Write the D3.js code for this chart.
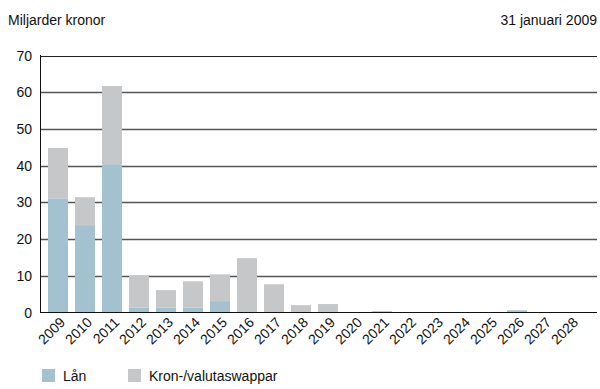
<!DOCTYPE html>
<html>
<head>
<meta charset="utf-8">
<script src="https://cdn.jsdelivr.net/npm/d3@7"></script>
<style>
  body { margin: 0; background: #fff; }
  svg { font-family: "Liberation Sans", Arial, sans-serif; }
</style>
</head>
<body>
<svg width="600" height="389"></svg>
<script>
var years = ["2009", "2010", "2011", "2012", "2013", "2014", "2015", "2016", "2017", "2018",
             "2019", "2020", "2021", "2022", "2023", "2024", "2025", "2026", "2027", "2028"];
var lan = [31.1, 23.8, 40.4, 1.3, 1.3, 1.3, 3.1, 0, 0, 0,
           0, 0, 0, 0, 0, 0, 0, 0.6, 0, 0];
var swappar = [13.7, 7.6, 21.3, 8.8, 4.8, 7.2, 7.3, 14.8, 7.7, 2.0,
               2.3, 0, 0.4, 0, 0, 0, 0, 0, 0, 0];
var yTicks = [0, 10, 20, 30, 40, 50, 60, 70];
var seriesNames = ["Lån", "Kron-/valutaswappar"];
var colors = ["#a3c1cf", "#c6c7c9"];

var svg = d3.select("svg");

var data = years.map(function (y, i) {
    return {year: y, lan: lan[i], swap: swappar[i]};
});

var x = d3.scaleBand()
    .domain(years)
    .range([44.5, 584.5])
    .paddingInner(0.26)
    .paddingOuter(0.13);

var y = d3.scaleLinear()
    .domain([0, 70])
    .range([312.5, 55.5]);

// gridlines
svg.append("g")
    .selectAll("line")
    .data(yTicks.slice(1))
    .enter().append("line")
        .attr("x1", 40)
        .attr("x2", 597)
        .attr("y1", function (d) { return Math.round(y(d)) + 0.5; })
        .attr("y2", function (d) { return Math.round(y(d)) + 0.5; })
        .attr("stroke", function (d) { return d === 70 ? "#222" : "#555"; })
        .attr("stroke-width", function (d) { return d === 70 ? 1 : 1.4; });

var stack = d3.stack().keys(["lan", "swap"]);

svg.append("g")
    .selectAll("g")
    .data(stack(data))
    .enter().append("g")
        .attr("fill", function (d, i) { return colors[i]; })
    .selectAll("rect")
    .data(function (d) { return d; })
    .enter().append("rect")
        .attr("x", function (d) { return x(d.data.year); })
        .attr("y", function (d) { return y(d[1]); })
        .attr("height", function (d) { return y(d[0]) - y(d[1]); })
        .attr("width", x.bandwidth());

// axes lines
svg.append("line")
    .attr("x1", 40.5).attr("x2", 40.5)
    .attr("y1", 55).attr("y2", 313)
    .attr("stroke", "#111");
svg.append("line")
    .attr("x1", 40).attr("x2", 597)
    .attr("y1", 312.5).attr("y2", 312.5)
    .attr("stroke", "#111");

// y labels
svg.append("g")
    .selectAll("text")
    .data(yTicks)
    .enter().append("text")
        .attr("x", 32)
        .attr("y", function (d) { return y(d); })
        .attr("dy", "0.36em")
        .attr("text-anchor", "end")
        .attr("font-size", 14)
        .attr("fill", "#111")
        .text(function (d) { return d; });

// x labels
svg.append("g")
    .selectAll("text")
    .data(years)
    .enter().append("text")
        .attr("transform", function (d) {
            return "translate(" + (x(d) + x.bandwidth() / 2 + 1) + ",316) rotate(-45)";
        })
        .attr("dy", "0.72em")
        .attr("text-anchor", "end")
        .attr("font-size", 14)
        .attr("fill", "#111")
        .text(function (d) { return d; });

// titles
svg.append("text")
    .attr("x", 8).attr("y", 25)
    .attr("font-size", 14)
    .attr("fill", "#111")
    .text("Miljarder kronor");
svg.append("text")
    .attr("x", 597).attr("y", 25)
    .attr("text-anchor", "end")
    .attr("font-size", 14)
    .attr("fill", "#111")
    .text("31 januari 2009");

// legend
var legendX = [42, 128];
var legend = svg.selectAll(".legend")
    .data(seriesNames)
    .enter().append("g")
        .attr("class", "legend")
        .attr("transform", function (d, i) { return "translate(" + legendX[i] + ",369)"; });

legend.append("rect")
    .attr("width", 13)
    .attr("height", 13)
    .attr("fill", function (d, i) { return colors[i]; });

legend.append("text")
    .attr("x", 21)
    .attr("y", 12)
    .attr("font-size", 14)
    .attr("fill", "#111")
    .text(function (d) { return d; });
</script>
</body>
</html>
